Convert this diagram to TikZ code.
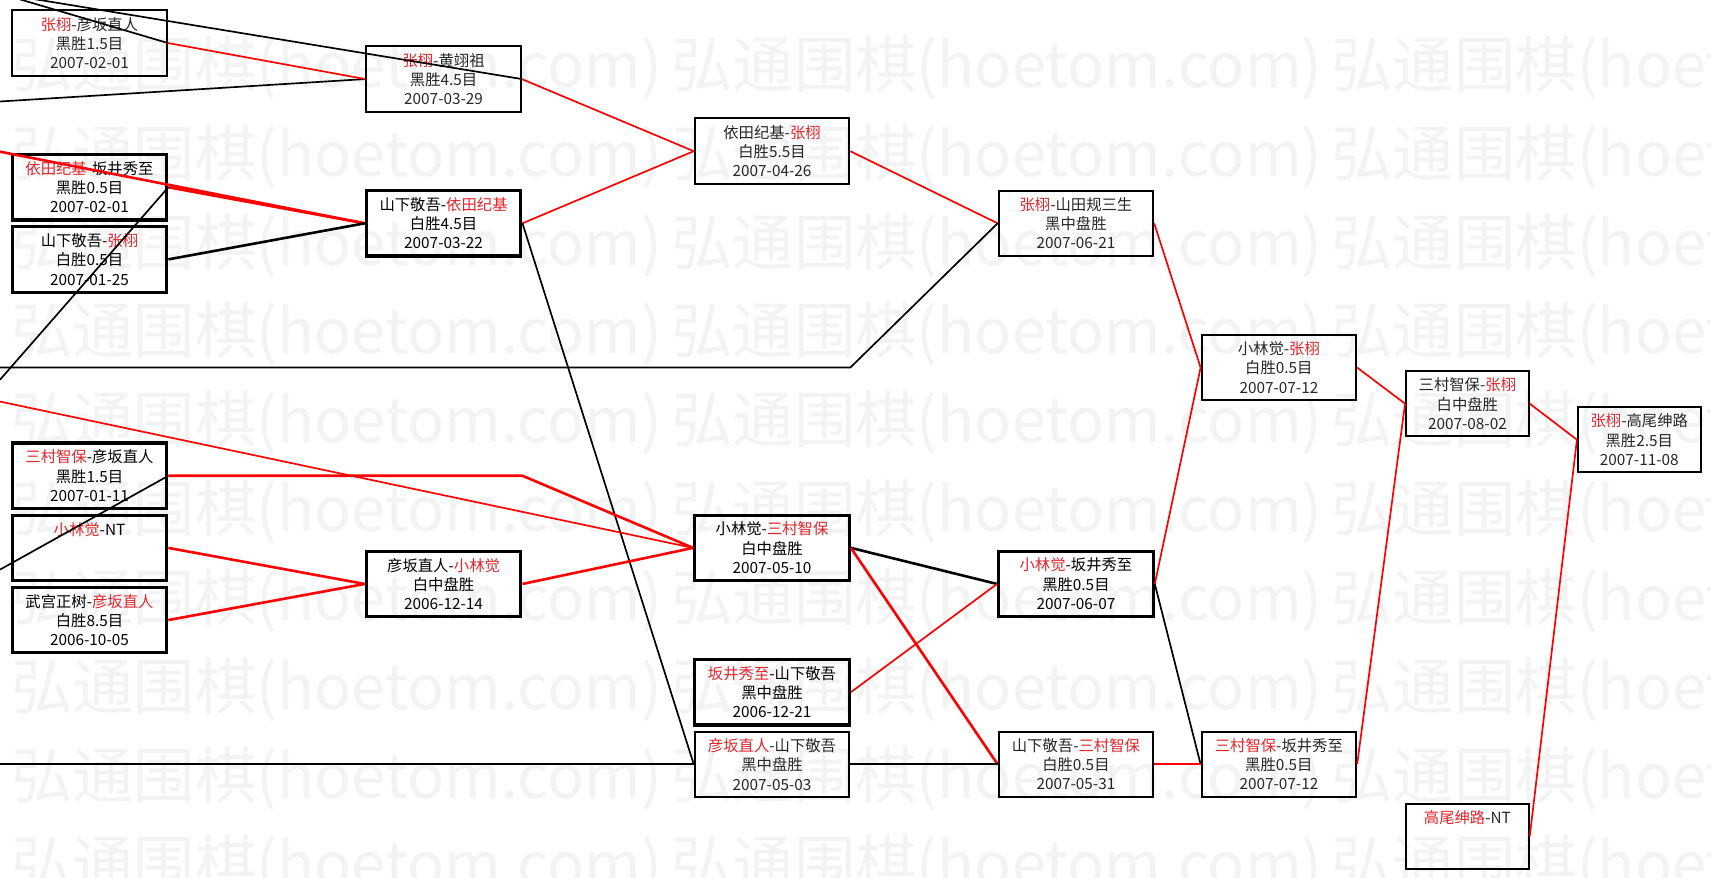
\documentclass[tikz,border=0pt]{standalone}
\usepackage{fontspec}
\usepackage{xcolor}
\setmainfont{Noto Sans CJK SC}
\definecolor{winred}{RGB}{255,0,0}
\definecolor{namered}{RGB}{226,36,44}
\definecolor{stampgray}{RGB}{243,243,243}
\newcommand{\winner}[1]{\textcolor{namered}{#1}}

\begin{document}
\begin{tikzpicture}[
    x=0.025cm, y=-0.025cm,
    match/.style={rectangle,draw=black,line width=1.3pt,text=black!85,
      minimum width=3.54cm,minimum height=1.5cm,inner sep=0pt,align=center,
      font=\fontsize{10}{12.6}\selectfont},
    keymatch/.style={match,line width=2.1pt,text=black},
    narrow/.style={minimum width=2.81cm},
    stamp/.style={text=stampgray,anchor=west,inner sep=0pt,
      font=\fontsize{40}{40}\selectfont},
    won/.style={draw=winred,line width=1.1pt},
    lost/.style={draw=black,line width=1.1pt},
    heavy/.style={line width=1.7pt}
  ]
  \useasboundingbox (0,0) rectangle (1568,804);
  \clip (0,0) rectangle (1568,804);

  % watermark
  \foreach \r in {0,...,9}
    \foreach \c in {0,1,2}
      \node[stamp] (stamp-\r-\c) at (10+605*\c,62+81.4*\r) {弘通围棋(hoetom.com)};

  % first column
  \node[match] (zhangHikosaka) at (82,39.4) {\winner{张栩}-彦坂直人\\黑胜1.5目\\2007-02-01};
  \node[keymatch] (yodaSakai) at (82,171.6) {\winner{依田纪基}-坂井秀至\\黑胜0.5目\\2007-02-01};
  \node[keymatch] (yamashitaZhang) at (82,237.7) {山下敬吾-\winner{张栩}\\白胜0.5目\\2007-01-25};
  \node[keymatch] (mimuraHikosaka) at (82,436) {\winner{三村智保}-彦坂直人\\黑胜1.5目\\2007-01-11};
  \node[keymatch] (kobayashiNT) at (82,502.1) {\winner{小林觉}-NT\\~\\~};
  \node[keymatch] (takemiyaHikosaka) at (82,568.2) {武宫正树-\winner{彦坂直人}\\白胜8.5目\\2006-10-05};

  % second column
  \node[match] (zhangHuang) at (406.5,72.45) {\winner{张栩}-黄翊祖\\黑胜4.5目\\2007-03-29};
  \node[keymatch] (yamashitaYoda) at (406.5,204.65) {山下敬吾-\winner{依田纪基}\\白胜4.5目\\2007-03-22};
  \node[keymatch] (hikosakaKobayashi) at (406.5,535.15) {彦坂直人-\winner{小林觉}\\白中盘胜\\2006-12-14};

  % third column
  \node[match] (yodaZhang) at (707.5,138.55) {依田纪基-\winner{张栩}\\白胜5.5目\\2007-04-26};
  \node[keymatch] (kobayashiMimura) at (707.5,502.1) {小林觉-\winner{三村智保}\\白中盘胜\\2007-05-10};
  \node[keymatch] (sakaiYamashita) at (707.5,634.3) {\winner{坂井秀至}-山下敬吾\\黑中盘胜\\2006-12-21};
  \node[match] (hikosakaYamashita) at (707.5,700.4) {\winner{彦坂直人}-山下敬吾\\黑中盘胜\\2007-05-03};

  % fourth column
  \node[match] (zhangYamada) at (986,204.65) {\winner{张栩}-山田规三生\\黑中盘胜\\2007-06-21};
  \node[keymatch] (kobayashiSakai) at (986,535.15) {\winner{小林觉}-坂井秀至\\黑胜0.5目\\2007-06-07};
  \node[match] (yamashitaMimura) at (986,700.4) {山下敬吾-\winner{三村智保}\\白胜0.5目\\2007-05-31};

  % fifth column
  \node[match] (kobayashiZhang) at (1172,336.85) {小林觉-\winner{张栩}\\白胜0.5目\\2007-07-12};
  \node[match] (mimuraSakai) at (1172,700.4) {\winner{三村智保}-坂井秀至\\黑胜0.5目\\2007-07-12};

  % last rounds
  \node[match,narrow] (mimuraZhang) at (1344.75,369.9) {三村智保-\winner{张栩}\\白中盘胜\\2007-08-02};
  \node[match,narrow] (takaoNT) at (1344.75,766.5) {\winner{高尾绅路}-NT\\~\\~};
  \node[match,narrow] (final) at (1502.25,402.95) {\winner{张栩}-高尾绅路\\黑胜2.5目\\2007-11-08};

  % lines coming in from outside the frame
  \coordinate (offTop) at (0,-6);
  \coordinate (offHuang) at (0,93);
  \coordinate (offYoda) at (0,139);
  \coordinate (offYamada) at (0,336.85);
  \coordinate (offSakai) at (0,348);
  \coordinate (offMimura) at (0,368);
  \coordinate (offHiko) at (0,522);
  \coordinate (offYamashita) at (0,700.4);

  \draw[lost] (offTop) -- (zhangHikosaka.east);
  \draw[lost] (offTop) -- (zhangHuang.east);
  \draw[lost] (offHuang) -- (zhangHuang.west);
  \draw[won] (zhangHikosaka.east) -- (zhangHuang.west);
  \draw[won] (zhangHuang.east) -- (yodaZhang.west);
  \draw[won,heavy] (offYoda) -- (yamashitaYoda.west);
  \draw[won,heavy] (yodaSakai.east) -- (yamashitaYoda.west);
  \draw[lost] (offSakai) -- (yodaSakai.east);
  \draw[lost,heavy] (yamashitaZhang.east) -- (yamashitaYoda.west);
  \draw[won] (yamashitaYoda.east) -- (yodaZhang.west);
  \draw[lost] (yamashitaYoda.east) -- (hikosakaYamashita.west);
  \draw[won] (yodaZhang.east) -- (zhangYamada.west);
  \draw[lost] (offYamada) -- (offYamada -| yodaZhang.east) -- (zhangYamada.west);
  \draw[won] (zhangYamada.east) -- (kobayashiZhang.west);

  \draw[lost] (offHiko) -- (mimuraHikosaka.east);
  \draw[won,heavy] (mimuraHikosaka.east) -- (mimuraHikosaka.east -| hikosakaKobayashi.east)
    -- (kobayashiMimura.west);
  \draw[won] (offMimura) -- (kobayashiMimura.west);
  \draw[won,heavy] (kobayashiNT.east) -- (hikosakaKobayashi.west);
  \draw[won,heavy] (takemiyaHikosaka.east) -- (hikosakaKobayashi.west);
  \draw[won,heavy] (hikosakaKobayashi.east) -- (kobayashiMimura.west);
  \draw[lost,heavy] (kobayashiMimura.east) -- (kobayashiSakai.west);
  \draw[won,heavy] (kobayashiMimura.east) -- (yamashitaMimura.west);
  \draw[won] (sakaiYamashita.east) -- (kobayashiSakai.west);
  \draw[lost] (offYamashita) -- (hikosakaYamashita.west);
  \draw[lost] (hikosakaYamashita.east) -- (yamashitaMimura.west);

  \draw[won] (kobayashiSakai.east) -- (kobayashiZhang.west);
  \draw[lost] (kobayashiSakai.east) -- (mimuraSakai.west);
  \draw[won] (yamashitaMimura.east) -- (mimuraSakai.west);
  \draw[won] (kobayashiZhang.east) -- (mimuraZhang.west);
  \draw[won] (mimuraSakai.east) -- (mimuraZhang.west);
  \draw[won] (mimuraZhang.east) -- (final.west);
  \draw[won] (takaoNT.east) -- (final.west);
\end{tikzpicture}
\end{document}
